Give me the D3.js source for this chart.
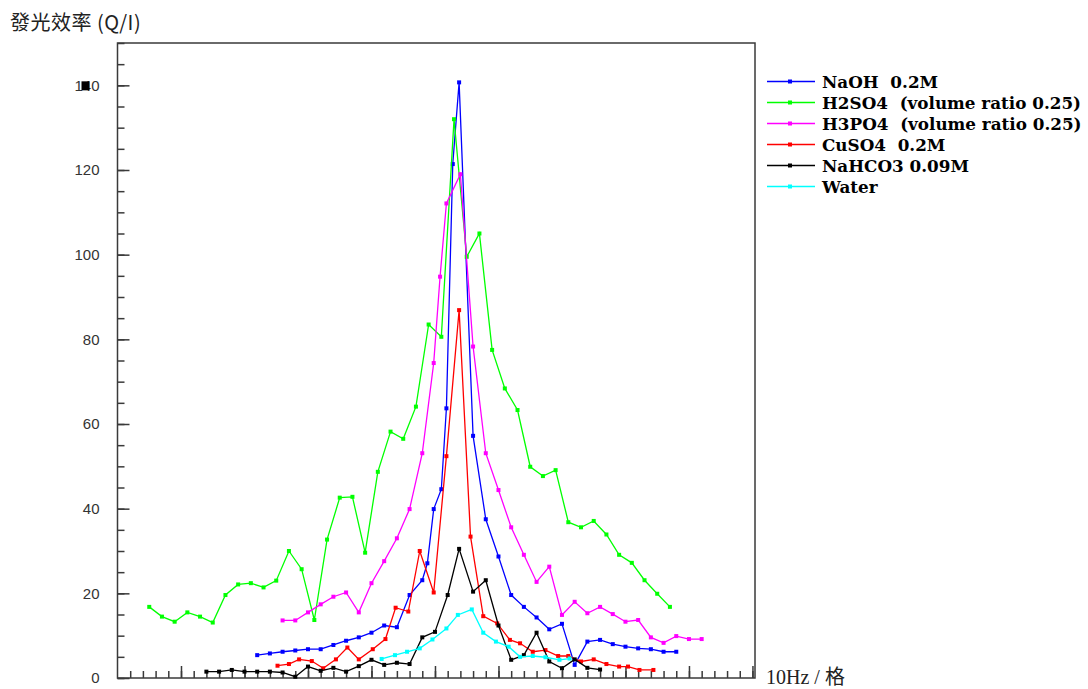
<!DOCTYPE html>
<html><head><meta charset="utf-8">
<script src="https://cdn.jsdelivr.net/npm/d3@7"></script>
<style>
html,body{margin:0;padding:0;background:#fff;}
svg{display:block;}
.leg{white-space:pre;}
</style></head>
<body>
<svg id="chart" width="1088" height="689"></svg>
<script>
// ---- data (x in grid units of 10Hz, y = efficiency Q/I) ----
const seriesNames = ["NaOH  0.2M", "H2SO4  (volume ratio 0.25)", "H3PO4  (volume ratio 0.25)", "CuSO4  0.2M", "NaHCO3 0.09M", "Water"];
const seriesColors = ["#0000ff", "#00ff00", "#ff00ff", "#ff0000", "#000000", "#00ffff"];

const naohX = [11,12,13,14,15,16,17,18,19,20,21,22,23,24,24.4,24.9,25.5,25.9,26.4,26.9,28,29,30,31,32,33,34,35,36,37,38,39,40,41,42,43,44];
const naohY = [5.4,5.8,6.2,6.5,6.8,6.8,7.8,8.8,9.6,10.7,12.4,12.0,19.6,23.1,27.1,39.9,44.6,63.7,121.4,140.7,57.2,37.5,28.7,19.6,16.8,14.3,11.5,12.8,3.1,8.6,9.0,8.0,7.4,7.0,6.8,6.2,6.2];

const h2so4X = [2.5,3.5,4.5,5.5,6.5,7.5,8.5,9.5,10.5,11.5,12.5,13.5,14.5,15.5,16.5,17.5,18.5,19.5,20.5,21.5,22.5,23.5,24.5,25.5,26.5,27.5,28.5,29.5,30.5,31.5,32.5,33.5,34.5,35.5,36.5,37.5,38.5,39.5,40.5,41.5,42.5,43.5];
const h2so4Y = [16.8,14.5,13.3,15.5,14.5,13.1,19.6,22.1,22.4,21.4,23.0,30.0,25.7,13.7,32.7,42.6,42.8,29.6,48.7,58.2,56.5,64.1,83.5,80.6,132.0,99.5,105.0,77.5,68.4,63.3,49.9,47.7,49.1,36.8,35.6,37.1,33.9,29.1,27.2,23.1,19.9,16.8];

const h3po4X = [13,14,15,16,17,18,19,20,21,22,23,24,24.9,25.4,25.9,27,28,29,30,31,32,33,34,35,36,37,38,39,40,41,42,43,44,45,46];
const h3po4Y = [13.6,13.6,15.5,17.4,19.2,20.2,15.5,22.4,27.6,33.0,39.9,53.1,74.4,94.8,112.1,119.0,78.3,53.1,44.4,35.6,29.1,22.7,26.3,14.9,18.0,15.3,16.8,15.1,13.3,13.7,9.6,8.3,9.9,9.2,9.2];

const cuso4X = [12.6,13.5,14.3,15.3,16.2,17.2,18.1,19,20.1,21.1,21.9,22.9,23.8,24.9,25.9,26.9,27.8,28.8,29.9,30.9,31.7,32.7,33.7,34.7,35.5,36.5,37.5,38.5,39.5,40.2,41.1,42.2];
const cuso4Y = [2.9,3.3,4.4,4.0,2.3,4.4,7.2,4.4,6.8,9.2,16.6,15.7,30.0,20.2,52.4,86.9,33.4,14.6,12.9,9.0,8.2,6.2,6.6,5.2,5.2,3.9,4.4,3.3,2.7,2.7,1.9,1.9];

const nahco3X = [7,8,9,10,11,12,13,14,15,16,17,18,19,20,21,22,23,24,25,26,26.9,28,29,30,31,32,33,34,35,36,37,38];
const nahco3Y = [1.5,1.5,1.9,1.5,1.5,1.5,1.3,0.3,2.7,1.7,2.4,1.5,2.8,4.3,3.1,3.6,3.3,9.6,10.9,19.6,30.5,20.4,23.1,12.4,4.3,5.4,10.7,3.9,2.3,4.4,2.4,2.0];

const waterX = [20.8,21.85,22.8,23.8,24.8,25.9,26.8,27.9,28.8,29.8,30.8,31.7,32.7,33.7,34.8,35.6];
const waterY = [4.5,5.4,6.2,7.0,9.1,11.7,14.9,16.2,10.7,8.6,7.4,5.0,5.2,4.9,4.3,4.6];

const yTickLabels = [0,20,40,60,80,100,120,140];
const titleText = "發光效率 (Q/I)";
const xLabelText = "10Hz / 格";

// ---- build ----
const seriesX = [naohX, h2so4X, h3po4X, cuso4X, nahco3X, waterX];
const seriesY = [naohY, h2so4Y, h3po4Y, cuso4Y, nahco3Y, waterY];
const series = seriesNames.map((n,i)=>({name:n, color:seriesColors[i],
  pts: seriesX[i].map((x,j)=>({x:x, y:seriesY[i][j]}))}));

const svg = d3.select("#chart");
const L=117.5, R=755, T=43, B=678;
const x = d3.scaleLinear().domain([0,50.2]).range([L,R]);
const y = d3.scaleLinear().domain([0,150]).range([B,T]);

// frame
svg.append("rect").attr("x",L).attr("y",T).attr("width",R-L).attr("height",B-T)
  .attr("fill","none").attr("stroke","#3a3a3a").attr("stroke-width",1.5);

// y axis ticks
const gyMinor = svg.append("g").attr("transform",`translate(${L},0)`)
  .call(d3.axisLeft(y).tickValues(d3.range(0,151,5)).tickSize(-7).tickFormat(""));
const gyMajor = svg.append("g").attr("transform",`translate(${L},0)`)
  .call(d3.axisLeft(y).tickValues(yTickLabels).tickSize(-12).tickPadding(18).tickFormat(d3.format("d")));
[gyMinor,gyMajor].forEach(g=>{
  g.select(".domain").remove();
  g.selectAll(".tick line").attr("stroke","#3a3a3a").attr("stroke-width",1.5);
});
gyMajor.selectAll(".tick text").attr("font-family","'Liberation Sans', Arial, sans-serif")
  .attr("font-size","15px").attr("fill","#333");
// the glitch box over the "4" of the "140" label
const t140 = gyMajor.selectAll(".tick").filter(d=>d===140);
t140.append("rect").attr("x",-36).attr("y",-4.5).attr("width",8).attr("height",9).attr("fill","#000");

// x axis ticks (inside)
const gxMinor = svg.append("g").attr("transform",`translate(0,${B})`)
  .call(d3.axisBottom(x).tickValues(d3.range(1,51)).tickSize(-7).tickFormat(""));
const gxMajor = svg.append("g").attr("transform",`translate(0,${B})`)
  .call(d3.axisBottom(x).tickValues(d3.range(5,51,5)).tickSize(-12).tickFormat(""));
[gxMinor,gxMajor].forEach(g=>{
  g.select(".domain").remove();
  g.selectAll(".tick line").attr("stroke","#3a3a3a").attr("stroke-width",1.5);
});

// lines
const line = d3.line().x(d=>x(d.x)).y(d=>y(d.y));
const gs = svg.append("g").selectAll("g").data(series).join("g");
gs.append("path").attr("d",d=>line(d.pts)).attr("fill","none")
  .attr("stroke",d=>d.color).attr("stroke-width",1.3);
gs.each(function(d){
  d3.select(this).selectAll("rect").data(d.pts).join("rect")
    .attr("x",p=>x(p.x)-2).attr("y",p=>y(p.y)-2).attr("width",4).attr("height",4)
    .attr("fill",d.color);
});

// legend
const leg = svg.append("g").selectAll("g").data(series).join("g")
  .attr("transform",(d,i)=>`translate(767,${81.5+i*21})`);
leg.append("line").attr("x1",0).attr("x2",48).attr("y1",0).attr("y2",0)
  .attr("stroke",d=>d.color).attr("stroke-width",1.3);
leg.append("rect").attr("x",21).attr("y",-2).attr("width",4).attr("height",4).attr("fill",d=>d.color);
leg.append("text").attr("class","leg").attr("x",55).attr("y",6.5)
  .attr("font-family","'DejaVu Serif','Liberation Serif',serif").attr("font-weight","bold")
  .attr("font-size","16.8px").attr("fill","#000").text(d=>d.name);

// titles
svg.append("text").attr("x",10).attr("y",30).attr("font-family","'Noto Sans CJK TC','Noto Sans',sans-serif")
  .attr("font-size","20px").attr("letter-spacing","0.5px").attr("fill","#222").text(titleText);
svg.append("text").attr("x",766).attr("y",684).attr("font-family","'Liberation Serif','Noto Sans CJK TC',serif")
  .attr("font-size","20px").attr("fill","#222").text(xLabelText);
</script>
</body></html>
